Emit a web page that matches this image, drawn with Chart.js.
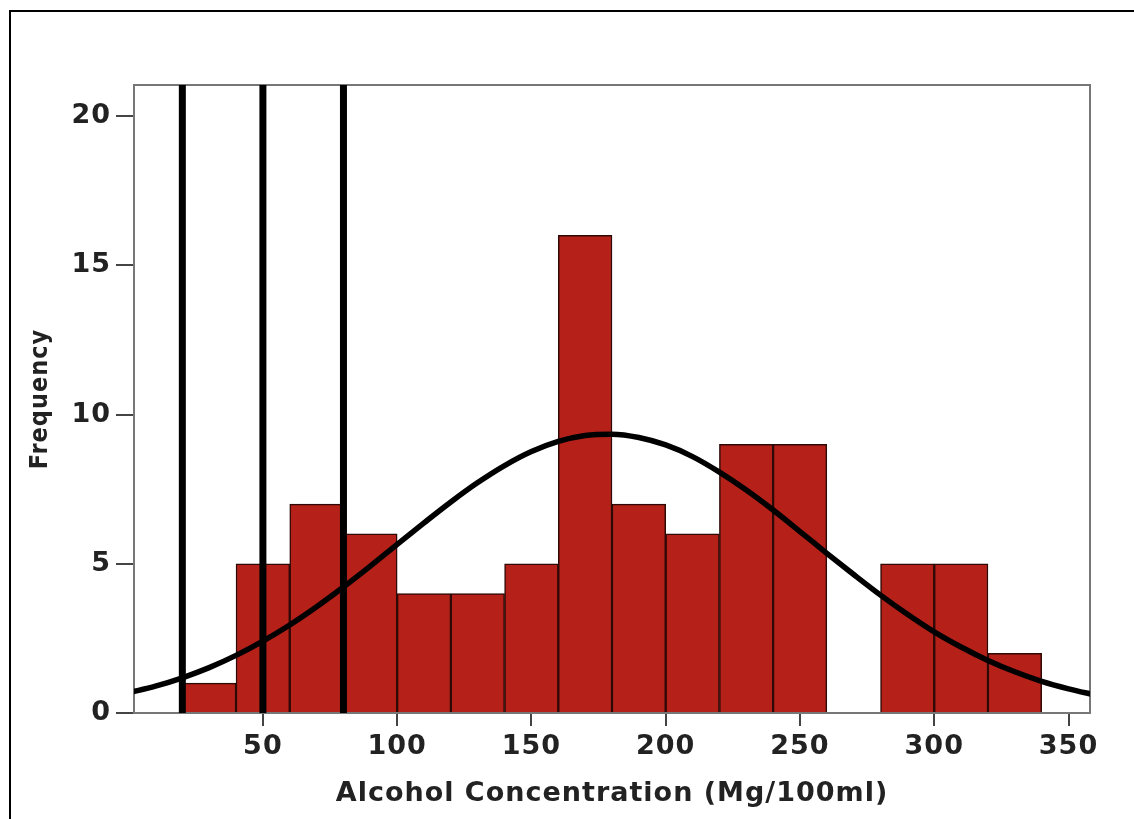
<!DOCTYPE html>
<html>
<head>
<meta charset="utf-8">
<script src="https://cdn.jsdelivr.net/npm/chart.js@4.4.1/dist/chart.umd.min.js"></script>
<style>
  html, body { margin: 0; padding: 0; background: #fff; }
  #wrap { position: relative; width: 1134px; height: 819px; overflow: hidden; }
  #frame { position: absolute; left: 9px; top: 10px; width: 1200px; height: 900px;
           border-top: 2px solid #000; border-left: 2px solid #000; }
  #myChart { position: absolute; left: 0; top: 0; }
</style>
</head>
<body>
<div id="wrap">
  <div id="frame"></div>
  <canvas id="myChart" width="1134" height="819"></canvas>
</div>
<script>
// histogram bins (lower edge, width 20) and their counts
const binStarts = [20, 40, 60, 80, 100, 120, 140, 160, 180, 200, 220, 240, 260, 280, 300, 320];
const counts = [1, 5, 7, 6, 4, 4, 5, 16, 7, 6, 9, 9, 0, 5, 5, 2];

// normal curve
const curveX = [0, 10, 20, 30, 40, 50, 60, 70, 80, 90, 100, 110, 120, 130, 140, 150, 160, 170, 180,
  190, 200, 210, 220, 230, 240, 250, 260, 270, 280, 290, 300, 310, 320, 330, 340, 350, 360];
const curveY = [0.68, 0.9, 1.18, 1.52, 1.93, 2.41, 2.95, 3.56, 4.22, 4.92, 5.65, 6.37, 7.07, 7.72, 8.29,
  8.76, 9.1, 9.3, 9.34, 9.23, 8.98, 8.59, 8.07, 7.47, 6.8, 6.08, 5.35, 4.64, 3.95, 3.31, 2.72, 2.21,
  1.76, 1.38, 1.06, 0.81, 0.6];

// vertical reference lines
const refLines = [20, 50, 80];

const xTicks = [50, 100, 150, 200, 250, 300, 350];
const yTicks = [0, 5, 10, 15, 20];
const xMin = 2, xMax = 358, yMax = 21.04;

const ctx = document.getElementById("myChart");

const barData = binStarts.map((b, i) => ({ x: b + 10, y: counts[i] }));
const curveData = curveX.map((x, i) => ({ x: x, y: curveY[i] }));

const refDatasets = refLines.map((v) => ({
  type: "line",
  data: [{ x: v, y: 0 }, { x: v, y: yMax }],
  borderColor: "#000",
  borderWidth: 7,
  pointRadius: 0,
  order: 0,
}));

// thin grey box around the plot area, plus a little letter spacing for the text
const plotFrame = {
  id: "plotFrame",
  beforeDraw(chart) {
    chart.ctx.letterSpacing = "1px";
  },
  beforeDatasetsDraw(chart) {
    const a = chart.chartArea;
    const c = chart.ctx;
    c.save();
    c.strokeStyle = "#777";
    c.lineWidth = 2;
    c.strokeRect(a.left, a.top, a.right - a.left, a.bottom - a.top);
    c.restore();
  },
};

const tickFont = { family: "DejaVu Sans", weight: "bold", size: 27 };

new Chart(ctx, {
  type: "bar",
  data: {
    datasets: [
      {
        data: barData,
        backgroundColor: "#B52019",
        borderColor: "#2e0906",
        borderWidth: 1.5,
        barPercentage: 1,
        categoryPercentage: 1,
        order: 2,
      },
      {
        type: "line",
        data: curveData,
        borderColor: "#000",
        borderWidth: 5.5,
        pointRadius: 0,
        cubicInterpolationMode: "monotone",
        order: 1,
      },
      ...refDatasets,
    ],
  },
  plugins: [plotFrame],
  options: {
    responsive: false,
    animation: false,
    layout: { padding: { left: 0, top: 85, right: 44, bottom: 0 } },
    plugins: {
      legend: { display: false },
      tooltip: { enabled: false },
    },
    scales: {
      x: {
        type: "linear",
        min: xMin,
        max: xMax,
        offset: false,
        afterBuildTicks: (scale) => { scale.ticks = xTicks.map((v) => ({ value: v })); },
        afterFit: (scale) => { scale.height = 106; },
        grid: { display: true, offset: false, drawOnChartArea: false, tickLength: 13, color: "#444", lineWidth: 2 },
        border: { display: true, color: "#555", width: 2 },
        ticks: { font: tickFont, color: "#222", padding: 5 },
        title: {
          display: true,
          text: "Alcohol Concentration (Mg/100ml)",
          font: { family: "DejaVu Sans", weight: "bold", size: 27 },
          color: "#222",
          padding: { top: 0, bottom: 9 },
        },
      },
      y: {
        min: 0,
        max: yMax,
        afterBuildTicks: (scale) => { scale.ticks = yTicks.map((v) => ({ value: v })); },
        afterFit: (scale) => { scale.width = 134; },
        grid: { display: true, drawOnChartArea: false, tickLength: 18, color: "#444", lineWidth: 2 },
        border: { display: true, color: "#555", width: 2 },
        ticks: { font: tickFont, color: "#222", padding: 5 },
        title: {
          display: true,
          text: "Frequency",
          font: { family: "DejaVu Sans Condensed", weight: "bold", size: 25 },
          color: "#222",
          padding: { top: 25, bottom: 0 },
        },
      },
    },
  },
});
</script>
</body>
</html>
